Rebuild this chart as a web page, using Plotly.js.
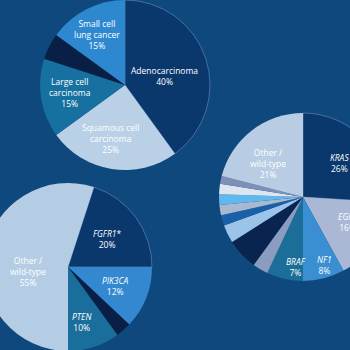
<!DOCTYPE html>
<html><head><meta charset="utf-8">
<script src="https://cdn.plot.ly/plotly-3.0.1.min.js"></script>
<style>
html,body{margin:0;padding:0;width:350px;height:350px;overflow:hidden;background:#0e487c;}
#wrap{position:relative;width:350px;height:350px;overflow:hidden;}
#chart{position:absolute;left:-100px;top:-100px;width:600px;height:600px;}
</style></head><body><div id="wrap"><div id="chart"></div></div>
<script>
// Pie 1: lung cancer histology
const histLabels = ['Adenocarcinoma','Squamous cell carcinoma','Large cell carcinoma','Other histology','Small cell lung cancer'];
const histValues = [40, 25, 15, 5, 15];
const histText = ['Adenocarcinoma<br>40%','Squamous cell<br>carcinoma<br>25%','Large cell<br>carcinoma<br>15%','','Small cell<br>lung cancer<br>15%'];
const histColors = ['#0a376c','#b9d0e6','#1670a0','#0a1f45','#2e88cf'];

// Pie 2: adenocarcinoma drivers
const adenoLabels = ['KRAS','EGFR','NF1','BRAF','Minor 1','Minor 2','Minor 3','Minor 4','Minor 5','Minor 6','Minor 7','Minor 8','Other / wild-type (adeno)'];
const adenoValues = [26, 16, 8, 7, 3, 6, 3.5, 2, 2, 2, 2, 1.5, 21];
const adenoText = ['<i>KRAS</i><br>26%','<i>EGFR</i><br>16%','<i>NF1</i><br>8%','<i>BRAF</i><br>7%','','','','','','','','','Other /<br>wild-type<br>21%'];
const adenoColors = ['#0a376c','#aab8d6','#3a8ed2','#1a6e98','#8a9cc0','#0a2450','#9cc4e8','#1a60a8','#a8b8d0','#60b8ee','#dce6f0','#7f90b8','#b8cde3'];

// Pie 3: squamous drivers
const squamLabels = ['FGFR1*','PIK3CA','Other driver','PTEN','Other / wild-type (squamous)'];
const squamValues = [20, 12, 3, 10, 55];
const squamText = ['<i>FGFR1</i>*<br>20%','<i>PIK3CA</i><br>12%','','<i>PTEN</i><br>10%','Other /<br>wild-type<br>55%'];
const squamColors = ['#0a376c','#3488d0','#0a1f45','#1a6e9c','#b5cde4'];

// ---- layout settings (positions in the 350px frame) ----
const BG = '#0e487c';
const OX = 100, OY = 100, W = 600, H = 600;
const pieGeom = [[125, 85, 85, 0], [303, 197, 84, 0], [68, 267, 84, 18]];
const labelPos = [
  [[164, 76], [110, 138], [70, 92.5], null, [97, 34.5]],
  [[339, 163], [347, 222], [324, 265], [296, 267], null, null, null, null, null, null, null, null, [268, 163]],
  [[107, 238.5], [115, 286], null, [82, 322], [28, 271]]
];
function dom(cx, cy, r) {
  return {x: [(OX + cx - r) / W, (OX + cx + r) / W], y: [1 - (OY + cy + r) / H, 1 - (OY + cy - r) / H]};
}
function lines(colors) {
  return {
    color: colors.map(c => c === '#0a376c' ? '#5a86b8' : c),
    width: colors.map(c => c === '#0a376c' ? 0.7 : 0)
  };
}
const font = {family: 'Open Sans, sans-serif', size: 8.5, color: '#ffffff'};
function pie(labels, values, colors, g) {
  return {
    type: 'pie', labels: labels, values: values,
    textinfo: 'none', sort: false, direction: 'clockwise', rotation: g[3],
    marker: {colors: colors, line: lines(colors)}, domain: dom(g[0], g[1], g[2]), hoverinfo: 'none'
  };
}
const data = [
  pie(histLabels, histValues, histColors, pieGeom[0]),
  pie(adenoLabels, adenoValues, adenoColors, pieGeom[1]),
  pie(squamLabels, squamValues, squamColors, pieGeom[2])
];
const texts = [histText, adenoText, squamText];
const annotations = [];
texts.forEach((arr, p) => arr.forEach((t, i) => {
  const pos = labelPos[p][i];
  if (!t || !pos) return;
  annotations.push({
    text: t, xref: 'paper', yref: 'paper',
    x: (OX + pos[0]) / W, y: 1 - (OY + pos[1]) / H,
    xanchor: 'center', yanchor: 'middle', showarrow: false, align: 'center', font: font
  });
}));
const layout = {width: W, height: H, margin: {l: 0, r: 0, t: 0, b: 0}, paper_bgcolor: BG, plot_bgcolor: BG, showlegend: false, font: font, annotations: annotations};
Plotly.newPlot('chart', data, layout, {staticPlot: true, displayModeBar: false});
</script></body></html>
